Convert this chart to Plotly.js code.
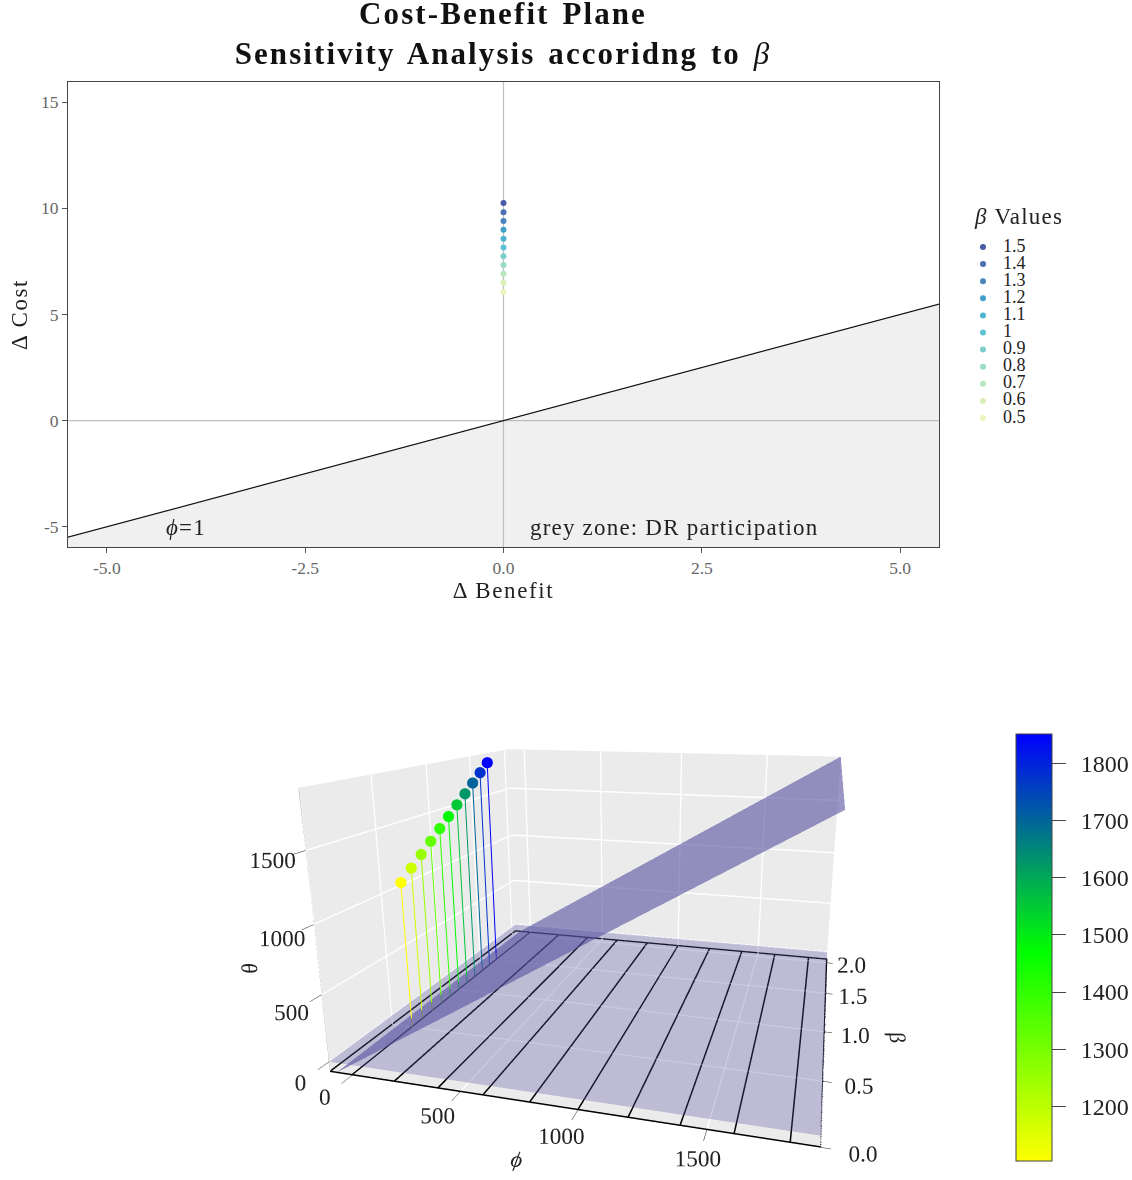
<!DOCTYPE html>
<html><head><meta charset="utf-8">
<script src="https://cdn.plot.ly/plotly-3.0.1.min.js"></script>
<style>html,body{margin:0;padding:0;background:#fff}
.gtitle{letter-spacing:2.1px;word-spacing:3px}.annotation-text{letter-spacing:1.2px}.xtitle,.ytitle{letter-spacing:1.6px}</style></head>
<body><div id="c" style="width:1132px;height:1180px"></div>
<script>
const betaValues=[1.5,1.4,1.3,1.2,1.1,1,0.9,0.8,0.7,0.6,0.5];
const betaLabels=["1.5","1.4","1.3","1.2","1.1","1","0.9","0.8","0.7","0.6","0.5"];
const deltaCost=[10.25,9.82,9.40,8.99,8.57,8.16,7.74,7.33,6.92,6.49,6.07];
const betaColors=["#4a59a8","#4a6fb4","#4a85bf","#429fcb","#4fb4d2","#5fc2d2","#7ccdcc","#9bdcc6","#b9e6bf","#d9f0b8","#e9f6bb"];
const thetaValues=[1852,1777,1702,1627,1553,1478,1403,1328,1253,1179,1104];
const phiLines=[0,200,400,600,800,1000,1200,1400,1600,1800];
const xr=[-107.77,1905.737],yr=[0,2.064],zr=[-76.725,1904.565];
const floorZ=[[0,0],[0,0]],slopeZ=[[xr[0],xr[1]],[xr[0],xr[1]]];
const H=608.873,cx=628.122,halfW=Math.min(cx,1132-cx);
const csc=[[0,'#ffff00'],[0.49,'#00ff00'],[1,'#0000ff']];
const font='"Liberation Serif",serif';
const traces=[];
traces.push({type:'scatter',x:[-5.5,5.5,5.5,-5.5],y:[-5.5,5.5,-5.95,-5.95],fill:'toself',fillcolor:'#f0f0f0',mode:'none',hoverinfo:'skip',showlegend:false});
traces.push({type:'scatter',x:[-5.5,5.5],y:[0,0],mode:'lines',line:{color:'#bebebe',width:1.2},showlegend:false});
traces.push({type:'scatter',x:[0,0],y:[-5.95,15.95],mode:'lines',line:{color:'#bebebe',width:1.2},showlegend:false});
traces.push({type:'scatter',x:[-5.5,5.5],y:[-5.5,5.5],mode:'lines',line:{color:'#111',width:1.2},showlegend:false});
traces.push({type:'scatter',x:betaValues.map(()=>0),y:deltaCost,mode:'markers',marker:{size:6,color:betaColors},showlegend:false});
traces.push({type:'scatter',xaxis:'x2',yaxis:'y2',x:betaValues.map(()=>0),y:betaValues,mode:'markers',cliponaxis:false,marker:{size:6,color:betaColors},showlegend:false});
traces.push({type:'scatter',xaxis:'x2',yaxis:'y2',x:betaValues.map(()=>1),y:betaValues,text:betaLabels,mode:'text',textposition:'middle right',cliponaxis:false,textfont:{family:font,size:18,color:'#222'},showlegend:false});
const flat={ambient:1,diffuse:0,specular:0,roughness:1,fresnel:0};
traces.push({type:'surface',x:xr,y:yr,z:floorZ,surfacecolor:[[0,0],[0,0]],cmin:0,cmax:1,colorscale:[[0,'#55509f'],[1,'#55509f']],showscale:false,opacity:.3,lighting:flat,hoverinfo:'skip'});
traces.push({type:'surface',x:xr,y:yr,z:slopeZ,surfacecolor:[[0,0],[0,0]],cmin:0,cmax:1,colorscale:[[0,'#55509f'],[1,'#55509f']],showscale:false,opacity:.6,lighting:flat,hoverinfo:'skip'});
const zf=zr[0]+3,lx=[],ly=[],lz=[];
for(const f of phiLines){lx.push(f,f,null);ly.push(0,yr[1],null);lz.push(zf,zf,null)}
lx.push(xr[0],xr[1],xr[1],xr[0],xr[0]);ly.push(0,0,yr[1],yr[1],0);lz.push(zf,zf,zf,zf,zf);
traces.push({type:'scatter3d',mode:'lines',x:lx,y:ly,z:lz,line:{color:'#000',width:3},hoverinfo:'skip',showlegend:false});
betaValues.forEach((b,i)=>traces.push({type:'scatter3d',mode:'lines',x:[0,0],y:[b,b],z:[zf,thetaValues[i]],line:{color:[thetaValues[i],thetaValues[i]],cmin:1104,cmax:1852,colorscale:csc,width:2},hoverinfo:'skip',showlegend:false}));
traces.push({type:'scatter3d',mode:'markers',x:betaValues.map(()=>0),y:betaValues,z:thetaValues,marker:{size:6.5,color:thetaValues,cmin:1104,cmax:1852,colorscale:csc,opacity:1,line:{width:0},showscale:true,colorbar:{x:1016/1132,xanchor:'left',xpad:0,ypad:0,thickness:36,len:427/1180,y:446/1180,yanchor:'top',tickvals:[1200,1300,1400,1500,1600,1700,1800],ticks:'outside',ticklen:14,tickcolor:'#444',tickfont:{family:font,size:24,color:'#222'},outlinecolor:'#444',outlinewidth:1}},showlegend:false});
const ax3=(title,range,vals,txt,len)=>({title:{text:title,font:{family:font,size:22,color:'#222'}},range,autorange:false,tickmode:'array',tickvals:vals,ticktext:txt,tickangle:0,tickfont:{family:font,size:16.7,color:'#222'},ticks:'outside',ticklen:len,tickwidth:1,tickcolor:'#222',showbackground:true,backgroundcolor:'#ebebeb',gridcolor:'#fff',gridwidth:3,showline:true,linecolor:'#999',linewidth:1,zeroline:false,showspikes:false});
const layout={width:1132,height:1180,margin:{l:0,r:0,t:0,b:0},autosize:false,paper_bgcolor:'#fff',plot_bgcolor:'#fff',showlegend:false,
 title:{text:'<b>Cost-Benefit Plane</b><br><b>Sensitivity Analysis accoridng to </b><i>β</i>',x:503/1132,xanchor:'center',xref:'paper',y:0.9795,yanchor:'top',yref:'paper',font:{family:font,size:31,color:'#111'}},
 xaxis:{domain:[68/1132,939/1132],range:[-5.49,5.49],tickvals:[-5,-2.5,0,2.5,5],ticktext:['-5.0','-2.5','0.0','2.5','5.0'],tickfont:{family:font,size:17.5,color:'#666'},ticks:'outside',ticklen:5,tickcolor:'#555',showgrid:false,zeroline:false,showline:true,mirror:true,linecolor:'#444',linewidth:1,title:{text:'Δ Benefit',font:{family:font,size:23,color:'#222'},standoff:4},anchor:'y'},
 yaxis:{domain:[633/1180,1098/1180],range:[-5.95,15.95],tickvals:[-5,0,5,10,15],ticktext:['-5','0','5','10','15'],tickfont:{family:font,size:17.5,color:'#666'},ticks:'outside',ticklen:5,tickcolor:'#555',showgrid:false,zeroline:false,showline:true,mirror:true,linecolor:'#444',linewidth:1,title:{text:'Δ Cost',font:{family:font,size:23,color:'#222'},standoff:6},anchor:'x'},
 xaxis2:{domain:[983/1132,1003/1132],range:[0,1],visible:false,anchor:'y2',fixedrange:true},
 yaxis2:{domain:[749/1180,949/1180],range:[0.424,1.5936],visible:false,anchor:'x2',fixedrange:true},
 annotations:[
  {xref:'x',yref:'y',x:-4.0,y:-5.05,text:'<i>ϕ</i>=1',showarrow:false,font:{family:font,size:23,color:'#222'}},
  {xref:'x',yref:'y',x:2.157,y:-5.05,text:'grey zone: DR participation',showarrow:false,font:{family:font,size:23,color:'#222'}},
  {xref:'paper',yref:'paper',x:972/1132,y:(1180-216)/1180,xanchor:'left',yanchor:'middle',text:'<i>β</i> Values',showarrow:false,font:{family:font,size:23,color:'#222'}}],
 scene:{domain:{x:[(cx-halfW)/1132,(cx+halfW)/1132],y:[0,H/1180]},aspectmode:'manual',aspectratio:{x:1.673,y:1.606,z:1},camera:{eye:{x:0.79,y:-2.781,z:0.805},center:{x:0.405,y:-1.371,z:0.434},up:{x:0,y:0,z:1},projection:{type:'perspective'}},
  xaxis:ax3('<i>ϕ</i>',xr,[0,500,1000,1500],['0','500','1000','1500'],6),
  yaxis:ax3('<i>β</i>',yr,[0,0.5,1,1.5,2],['0.0','0.5','1.0','1.5','2.0'],12),
  zaxis:ax3('<i>θ</i>',zr,[0,500,1000,1500],['0','500','1000','1500'],6)}};
Plotly.newPlot('c',traces,layout,{displayModeBar:false}).then(()=>{
 document.querySelectorAll('.colorbar .ticklabel, .cbaxis text').forEach(t=>{const x=parseFloat(t.getAttribute('x'));if(!isNaN(x))t.setAttribute('x',x+10)});
});
</script></body></html>
